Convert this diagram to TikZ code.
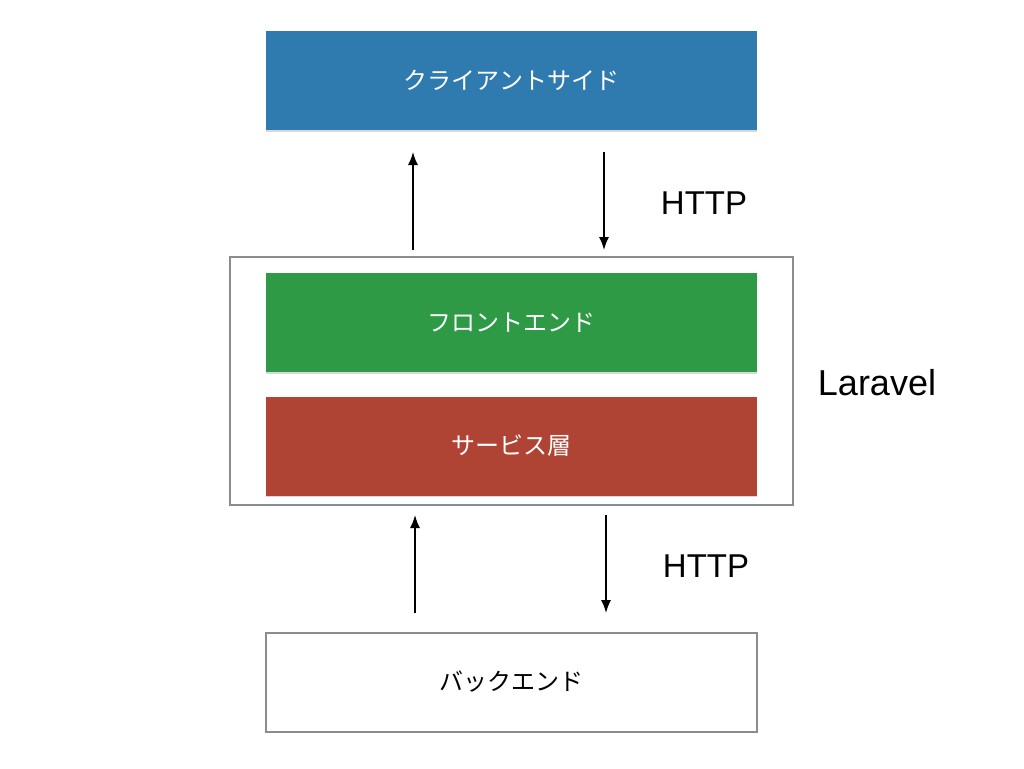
\documentclass[tikz,border=0pt]{standalone}
\usepackage{fontspec}
\setmainfont{Liberation Sans}
\newfontfamily\cjk{Noto Sans CJK JP}
\usetikzlibrary{arrows.meta,shadows}
\definecolor{cblue}{HTML}{2F7BB0}
\definecolor{cgreen}{HTML}{2E9A46}
\definecolor{cred}{HTML}{B04434}
\definecolor{cgray}{HTML}{8A8D90}
\begin{document}
\begin{tikzpicture}[x=1pt,y=-1pt,
  layer/.style={minimum width=491pt,minimum height=99pt,inner sep=0pt,
    font=\cjk\fontsize{24}{28}\selectfont},
  colored/.style={layer,fill=#1,text=white,
    drop shadow={shadow xshift=0pt,shadow yshift=-1.5pt,opacity=0.3}},
  frame/.style={draw=cgray,line width=2pt},
  flow/.style={-{Latex[length=13pt,width=10pt]},line width=1.5pt},
  big/.style={font=\fontsize{33}{38}\selectfont}]
\useasboundingbox (0,0) rectangle (1024,768);
\fill[white] (0,0) rectangle (1024,768);
\node[colored=cblue] (client) at (511.5,80.5) {クライアントサイド};
\node[frame,minimum width=563pt,minimum height=248pt,inner sep=0pt] (laravel) at (511.5,381) {};
\node[colored=cgreen] (front) at (511.5,322.5) {フロントエンド};
\node[colored=cred] (service) at (511.5,446) {サービス層};
\node[layer,frame,text=black] (back) at (511.5,682) {バックエンド};
\node[big] (http1) at (704,203) {HTTP};
\node[big] (http2) at (706,566) {HTTP};
\node[big,font=\fontsize{36}{40}\selectfont] (lar) at (877,383) {Laravel};
\coordinate (a1s) at (413,250); \coordinate (a1e) at (413,152);
\coordinate (a2s) at (604,152); \coordinate (a2e) at (604,250);
\coordinate (a3s) at (415,613); \coordinate (a3e) at (415,515);
\coordinate (a4s) at (606,515); \coordinate (a4e) at (606,613);
\draw[flow] (a1s) -- (a1e);
\draw[flow] (a2s) -- (a2e);
\draw[flow] (a3s) -- (a3e);
\draw[flow] (a4s) -- (a4e);
\end{tikzpicture}
\end{document}
